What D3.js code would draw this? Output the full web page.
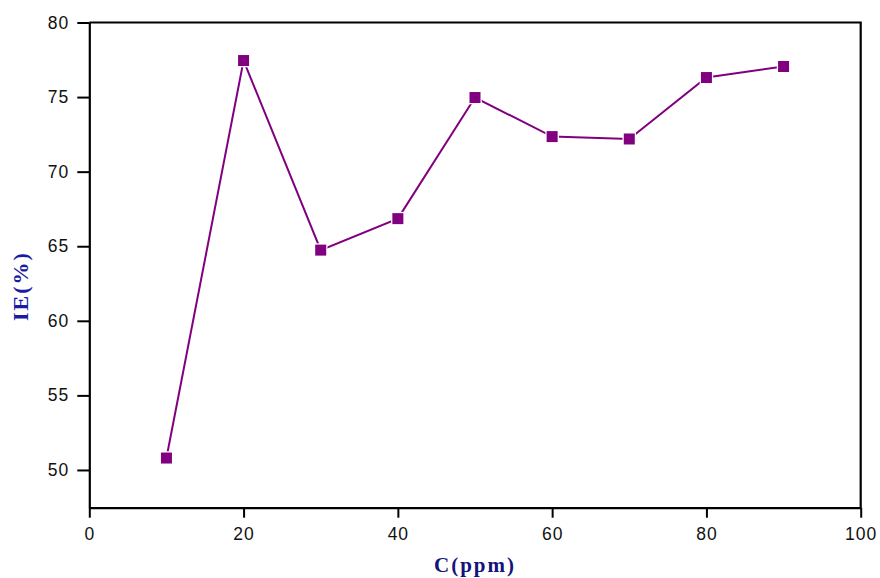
<!DOCTYPE html>
<html>
<head>
<meta charset="utf-8">
<script src="https://cdn.jsdelivr.net/npm/d3@7"></script>
<style>
  body { margin: 0; background: #fff; }
  svg { display: block; }
</style>
</head>
<body>
<svg id="chart" width="880" height="578"></svg>
<script>
// concentration (ppm) vs inhibition efficiency (%)
var conc = [10, 20, 30, 40, 50, 60, 70, 80, 90];
var ie = [50.8, 77.45, 64.74, 66.85, 74.97, 72.35, 72.19, 76.31, 77.05];

var xTicks = [0, 20, 40, 60, 80, 100];
var yTicks = [50, 55, 60, 65, 70, 75, 80];

var svg = d3.select('#chart');
var pLeft = 89.3, pRight = 860.7, pTop = 22.5, pBottom = 507.7;

var x = d3.scaleLinear().domain([0, 100]).range([pLeft, pRight]);
var y = d3.scaleLinear().domain([47.47, 80]).range([pBottom, pTop]);

var data = conc.map(function (c, i) { return { c: c, v: ie[i] }; });

// frame (top + right lines, no ticks)
svg.append('path')
  .attr('d', 'M' + pLeft + ',' + pTop + 'H' + pRight + 'V' + pBottom)
  .attr('fill', 'none')
  .attr('stroke', '#000')
  .attr('stroke-width', 2.2);

// minor + major ticks
var gx = svg.append('g').attr('transform', 'translate(0,' + pBottom + ')');
gx.call(d3.axisBottom(x).tickValues(d3.range(10, 100, 20)).tickSize(6).tickSizeOuter(0).tickFormat(''));
gx.call(d3.axisBottom(x).tickValues(xTicks).tickSize(10).tickSizeOuter(0).tickPadding(7));

var gy = svg.append('g').attr('transform', 'translate(' + pLeft + ',0)');
gy.call(d3.axisLeft(y).tickValues(d3.range(52.5, 80, 5)).tickSize(6).tickSizeOuter(0).tickFormat(''));
gy.call(d3.axisLeft(y).tickValues(yTicks).tickSize(12).tickSizeOuter(0).tickPadding(8));

svg.selectAll('.domain').attr('stroke-width', 2.2);
svg.selectAll('.tick line').attr('stroke-width', 2);
svg.selectAll('.tick text')
  .attr('font-family', '"Liberation Sans", Arial, sans-serif')
  .attr('font-size', 17.5)
  .attr('letter-spacing', 1)
  .attr('fill', '#111');
gx.selectAll('.tick text').attr('dy', '0.9em');

// line + square markers
var line = d3.line().x(function (d) { return x(d.c); }).y(function (d) { return y(d.v); });
svg.append('path')
  .datum(data)
  .attr('d', line)
  .attr('fill', 'none')
  .attr('stroke', '#800080')
  .attr('stroke-width', 2);

svg.selectAll('rect.pt')
  .data(data)
  .enter().append('rect')
  .attr('class', 'pt')
  .attr('x', function (d) { return x(d.c) - 5.5; })
  .attr('y', function (d) { return y(d.v) - 5.5; })
  .attr('width', 11)
  .attr('height', 11)
  .attr('fill', '#800080')
  .attr('stroke', '#fff')
  .attr('stroke-width', 2.5)
  .attr('paint-order', 'stroke');

// axis titles
svg.append('text')
  .attr('x', 475)
  .attr('y', 572)
  .attr('text-anchor', 'middle')
  .attr('font-family', '"Liberation Serif", "Times New Roman", serif')
  .attr('font-weight', 'bold')
  .attr('font-size', 21)
  .attr('letter-spacing', 2)
  .attr('fill', '#13137a')
  .text('C(ppm)');

svg.append('text')
  .attr('transform', 'translate(28,286) rotate(-90)')
  .attr('text-anchor', 'middle')
  .attr('font-family', '"Liberation Serif", "Times New Roman", serif')
  .attr('font-weight', 'bold')
  .attr('font-size', 22)
  .attr('letter-spacing', 2)
  .attr('fill', '#1a1aa6')
  .text('IE(%)');
</script>
</body>
</html>
